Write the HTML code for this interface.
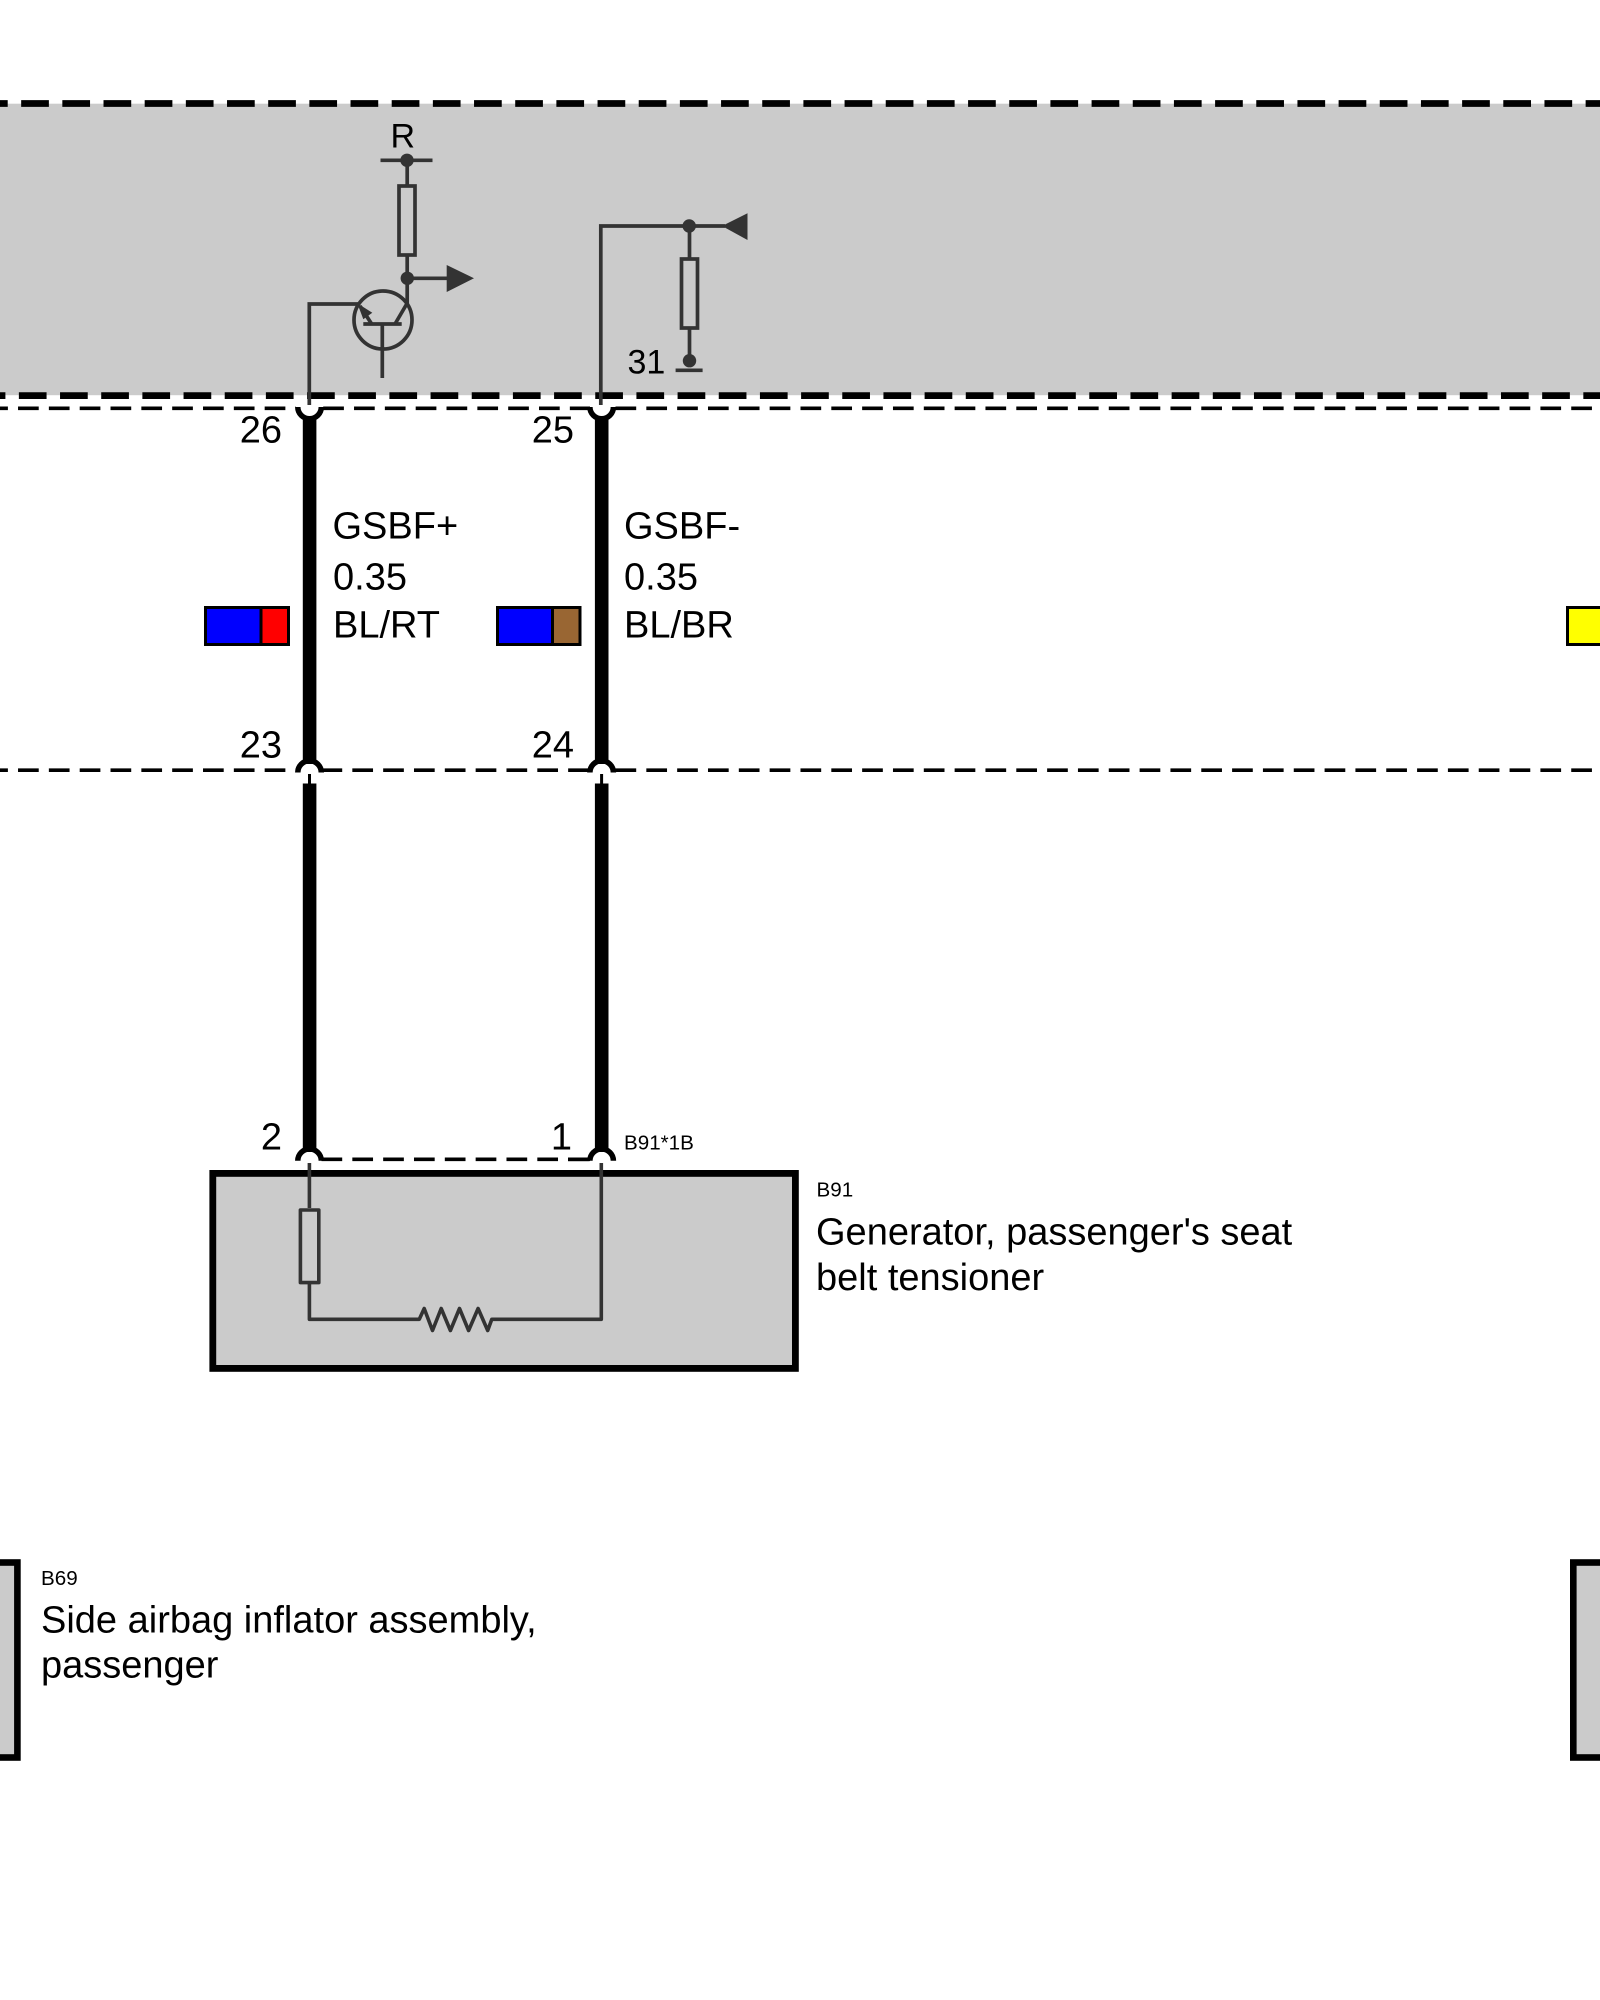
<!DOCTYPE html>
<html>
<head>
<meta charset="utf-8">
<style>
html,body{margin:0;padding:0;background:#fff;width:1600px;height:2000px;overflow:hidden}
svg{display:block}
text{font-family:"Liberation Sans",Arial,sans-serif;fill:#000}
.n{font-size:38px}
.s{font-size:20.6px}
.e{text-anchor:end}
</style>
</head>
<body>
<svg width="1600" height="2000" viewBox="0 0 1600 2000" xmlns="http://www.w3.org/2000/svg">
<rect width="1600" height="2000" fill="#fff"/>
<!-- gray band -->
<rect x="0" y="103.7" width="1600" height="291.5" fill="#cbcbcb"/>
<line x1="-20" y1="103.5" x2="1600" y2="103.5" stroke="#000" stroke-width="6.8" stroke-dasharray="27.7 13.47"/>
<line x1="-22.3" y1="395.6" x2="1600" y2="395.6" stroke="#000" stroke-width="6.8" stroke-dasharray="27.7 13.47"/>

<!-- thin dashed lines -->
<g stroke="#000" stroke-width="3.6" fill="none" stroke-dasharray="20.7 10.13">
<line x1="-12.8" y1="408.3" x2="296" y2="408.3"/>
<line x1="323.2" y1="408.3" x2="590" y2="408.3"/>
<line x1="615.5" y1="408.3" x2="1600" y2="408.3"/>
<line x1="-12.8" y1="770.2" x2="296" y2="770.2"/>
<line x1="321.5" y1="770.2" x2="590" y2="770.2"/>
<line x1="615.5" y1="770.2" x2="1600" y2="770.2"/>
<line x1="321.5" y1="1159.3" x2="590" y2="1159.3"/>
</g>
<line x1="568" y1="1159.3" x2="590" y2="1159.3" stroke="#000" stroke-width="3.6"/>

<!-- thick wires -->
<g stroke="#000" stroke-width="13.6" fill="none">
<line x1="309.6" y1="416" x2="309.6" y2="764"/>
<line x1="601.7" y1="416" x2="601.7" y2="764"/>
<line x1="309.6" y1="783.5" x2="309.6" y2="1152"/>
<line x1="601.7" y1="783.5" x2="601.7" y2="1152"/>
</g>
<!-- terminal arcs -->
<g stroke="#000" stroke-width="5.5" fill="none">
<path d="M297.8 407 A11.75 11.75 0 0 0 321.3 407"/>
<path d="M589.9 407 A11.75 11.75 0 0 0 613.4 407"/>
<path d="M297.8 772.5 A11.75 11.75 0 0 1 321.3 772.5"/>
<path d="M589.9 772.5 A11.75 11.75 0 0 1 613.4 772.5"/>
<path d="M297.8 1160.8 A11.75 11.75 0 0 1 321.3 1160.8"/>
<path d="M589.9 1160.8 A11.75 11.75 0 0 1 613.4 1160.8"/>
</g>
<g stroke="#000" stroke-width="3" fill="none">
<line x1="309.5" y1="774" x2="309.5" y2="784"/>
<line x1="601.6" y1="774" x2="601.6" y2="784"/>
</g>

<!-- band circuit -->
<g stroke="#333" stroke-width="3.7" fill="none">
<path d="M309.3 405 V304 H358"/>
<circle cx="383" cy="320" r="29"/>
<line x1="363.3" y1="324" x2="401.7" y2="324"/>
<line x1="382.3" y1="324" x2="382.3" y2="378"/>
<line x1="395" y1="324" x2="407.3" y2="303"/>
<line x1="371.7" y1="324" x2="360" y2="306"/>
<line x1="407.2" y1="305" x2="407.2" y2="256"/>
<line x1="407.2" y1="278.3" x2="450" y2="278.3"/>
<rect x="399" y="186" width="16" height="69"/>
<line x1="407.2" y1="185" x2="407.2" y2="160"/>
<line x1="380.5" y1="160.3" x2="432.5" y2="160.3"/>
<path d="M600.8 405 V226 H725"/>
<rect x="681.5" y="259" width="16" height="69"/>
<line x1="689.5" y1="226" x2="689.5" y2="258"/>
<line x1="689.5" y1="329" x2="689.5" y2="360"/>
<line x1="675.6" y1="370.3" x2="702.6" y2="370.3"/>
</g>
<g fill="#333">
<circle cx="407" cy="160.3" r="6.7"/>
<circle cx="407.3" cy="278.3" r="6.7"/>
<circle cx="689.2" cy="226" r="6.7"/>
<circle cx="689.5" cy="360.7" r="6.7"/>
<polygon points="446.7,265 474,278.3 446.7,292"/>
<polygon points="722,226 747.5,213.3 747.5,240"/>
<polygon points="357.3,303.3 372.3,312.7 363.3,319.3"/>
</g>

<!-- swatches -->
<g stroke="#000" stroke-width="3">
<rect x="205.5" y="607.5" width="55.5" height="37" fill="#0000ff"/>
<rect x="261" y="607.5" width="27.5" height="37" fill="#ff0000"/>
<rect x="497.5" y="607.5" width="55" height="37" fill="#0000ff"/>
<rect x="552.5" y="607.5" width="27.5" height="37" fill="#996633"/>
<rect x="1567.5" y="607.5" width="60" height="37" fill="#ffff00"/>
</g>

<!-- box B91 -->
<rect x="212.8" y="1173.4" width="582.6" height="195" fill="#cbcbcb" stroke="#000" stroke-width="6.8"/>
<g stroke="#333" stroke-width="3.6" fill="none" stroke-linejoin="round">
<line x1="309.4" y1="1163" x2="309.4" y2="1208"/>
<rect x="300.4" y="1210" width="18.4" height="72.6"/>
<path d="M309.4 1284 V1319.3 H419.3 L424.2 1308.5 L432.5 1330.5 L441.2 1308.5 L450.4 1330.5 L459.5 1308.5 L468.6 1330.5 L478.1 1308.5 L487.7 1330.5 L491.8 1319.3 H601.3 V1163"/>
</g>

<!-- side boxes -->
<rect x="-20" y="1562.5" width="37.4" height="195" fill="#cbcbcb" stroke="#000" stroke-width="6.6"/>
<rect x="1573.3" y="1562.5" width="60" height="195" fill="#cbcbcb" stroke="#000" stroke-width="6.6"/>

<!-- text -->
<text x="390.5" y="147.7" font-size="34">R</text>
<text x="627.5" y="373.3" font-size="34">31</text>
<text class="n e" x="282" y="442.3">26</text>
<text class="n e" x="574" y="442.3">25</text>
<text class="n" x="332.5" y="538.3">GSBF+</text>
<text class="n" x="333" y="589.3">0.35</text>
<text class="n" x="333" y="637.3">BL/RT</text>
<text class="n" x="624" y="538.3">GSBF-</text>
<text class="n" x="624" y="589.3">0.35</text>
<text class="n" x="624" y="637.3">BL/BR</text>
<text class="n e" x="282" y="757.7">23</text>
<text class="n e" x="574" y="757.7">24</text>
<text class="n e" x="282" y="1149.3">2</text>
<text class="n e" x="572" y="1149.3">1</text>
<text class="s" x="624" y="1149.3">B91*1B</text>
<text class="s" x="816.5" y="1196.7">B91</text>
<text class="n" x="816" y="1244.3">Generator, passenger's seat</text>
<text class="n" x="816" y="1290">belt tensioner</text>
<text class="s" x="41" y="1585">B69</text>
<text class="n" x="41" y="1632.7">Side airbag inflator assembly,</text>
<text class="n" x="41" y="1677.7">passenger</text>
</svg>
</body>
</html>
